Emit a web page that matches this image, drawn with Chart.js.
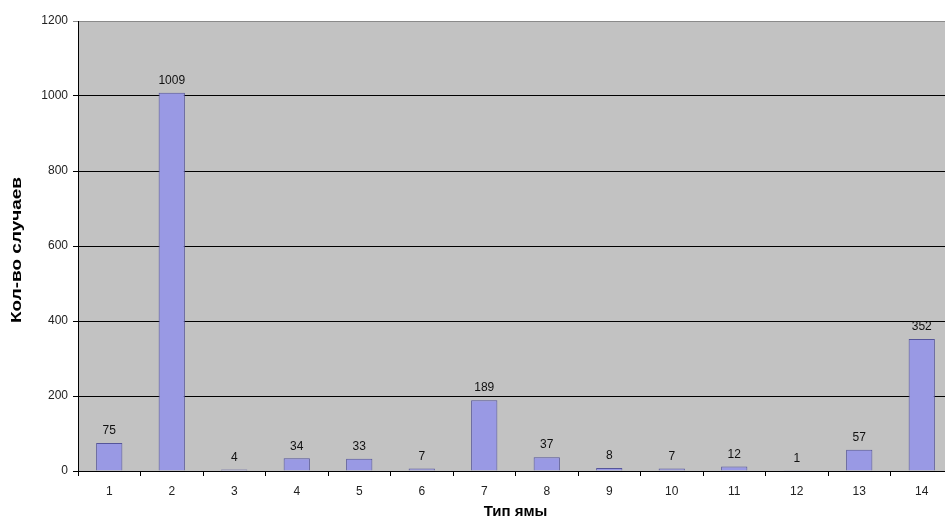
<!DOCTYPE html>
<html>
<head>
<meta charset="utf-8">
<script src="https://cdn.jsdelivr.net/npm/chart.js@4/dist/chart.umd.min.js"></script>
<style>
html,body{margin:0;padding:0;background:#fff;overflow:hidden;width:945px;height:525px;}
#wrap{width:960px;height:525px;position:relative;}
</style>
</head>
<body>
<div id="wrap"><canvas id="c" width="960" height="525"></canvas></div>
<script>
const categories = ['1','2','3','4','5','6','7','8','9','10','11','12','13','14'];
const caseCounts = [75, 1009, 4, 34, 33, 7, 189, 37, 8, 7, 12, 1, 57, 352];
const yTicks = [0, 200, 400, 600, 800, 1000, 1200];
const yTitle = 'Кол-во случаев';
const xTitle = 'Тип ямы';

const FONT = 'Arial, "Liberation Sans", sans-serif';

const plotBg = {
  id: 'plotBg',
  beforeDraw(chart) {
    const {ctx, chartArea: a} = chart;
    ctx.save();
    ctx.fillStyle = '#c2c2c2';
    ctx.fillRect(a.left, a.top, a.right - a.left, a.bottom - a.top);
    ctx.restore();
  }
};
const valueLabels = {
  id: 'valueLabels',
  afterDatasetsDraw(chart) {
    const {ctx} = chart;
    const meta = chart.getDatasetMeta(0);
    ctx.save();
    ctx.font = '12px ' + FONT;
    ctx.fillStyle = '#111';
    ctx.textAlign = 'center';
    ctx.textBaseline = 'bottom';
    meta.data.forEach((bar, i) => {
      ctx.fillText(String(caseCounts[i]), bar.x, bar.y - 6);
    });
    ctx.restore();
  }
};
const yTitleDraw = {
  id: 'yTitleDraw',
  afterDraw(chart) {
    const {ctx, chartArea: a} = chart;
    ctx.save();
    ctx.font = 'bold 15px ' + FONT;
    const w = ctx.measureText(yTitle).width;
    const target = 146;
    ctx.translate(17, (a.top + a.bottom) / 2 + 4);
    ctx.rotate(-Math.PI / 2);
    ctx.scale(target / w, 1);
    ctx.fillStyle = '#000';
    ctx.textAlign = 'center';
    ctx.textBaseline = 'middle';
    ctx.fillText(yTitle, 0, 0);
    ctx.restore();
  }
};

new Chart(document.getElementById('c'), {
  type: 'bar',
  data: {
    labels: categories,
    datasets: [{
      data: caseCounts,
      backgroundColor: '#9999e4',
      borderColor: '#55559a',
      borderWidth: 1,
      barPercentage: 0.42,
      categoryPercentage: 1.0
    }]
  },
  options: {
    responsive: false,
    animation: false,
    layout: {padding: {top: 21, right: 7, left: 0, bottom: 0}},
    plugins: {legend: {display: false}, tooltip: {enabled: false}},
    scales: {
      x: {
        offset: true,
        grid: {display: true, drawOnChartArea: false, drawTicks: true, tickLength: 5, color: '#000', offset: true},
        border: {display: true, color: '#000', width: 1},
        ticks: {padding: 8, color: '#222', font: {family: FONT, size: 12}, maxRotation: 0},
        title: {display: true, text: xTitle, color: '#000', font: {family: FONT, size: 15, weight: 'bold'}, padding: {top: 0, bottom: 4}},
        afterFit(s) { s.height = 54; }
      },
      y: {
        min: 0, max: 1200,
        afterBuildTicks(s) { s.ticks = yTicks.map(v => ({value: v})); },
        grid: {
          drawOnChartArea: true, drawTicks: true, tickLength: 5,
          color: ctx => (ctx.tick && ctx.tick.value === 1200) ? '#8a8a8a' : '#000',
          lineWidth: 1
        },
        border: {display: true, color: '#000', width: 1},
        ticks: {padding: 5, color: '#222', font: {family: FONT, size: 12}, callback: v => String(v)},
        title: {display: false},
        afterFit(s) { s.width = 78; }
      }
    }
  },
  plugins: [plotBg, valueLabels, yTitleDraw]
});
</script>
</body>
</html>
